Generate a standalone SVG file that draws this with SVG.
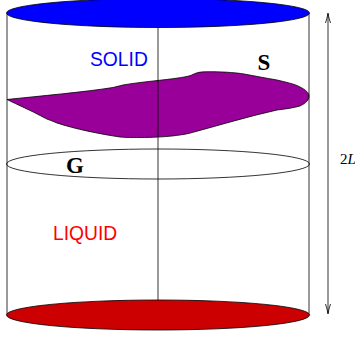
<svg xmlns="http://www.w3.org/2000/svg" width="355" height="338" viewBox="0 0 355 338">
<style>
.l{fill:none;stroke:#000;stroke-width:.8}
.e{stroke:#000;stroke-width:.8}
.sans{font-family:"Liberation Sans",Arial,sans-serif;font-size:19.300px}
.ser{font-family:"Liberation Serif",serif;font-weight:bold;font-size:23px;fill:#000}
</style>
<rect width="355" height="338" fill="#fff"/>
<g id="solid-s"><path class="e" fill="#990099" d="M7 99.500C40 96 85 92 113 87.500L123 85C140 82 165 80 178 78C185 77 190 76 193 74.500C197 72.500 200 71.800 206 71.800C220 71.500 235 72.500 244 74C255 76 265 78 277 80C285 82 295 84 300 87C306 90 309 93 309 96C309 100 306 103 300 106C293 108 285 109 277 110C250 116 220 125 194 132C185 135 165 137.500 140 137.500C130 137.500 125 137.500 120 137C100 134 75 129 57 123C50 120 46 119 43 117C30 110 18 105 7 99.500Z"/></g>
<g id="connectors">
<path class="l" d="M7 13V315M309 13V315M158 27V300"/>
<path class="l" d="M328 14V313"/>
<path class="l" d="M325.500 23Q327.300 18 328 13Q328.700 18 330.500 23M325.500 304Q327.300 309 328 314Q328.700 309 330.500 304"/>
</g>
<g id="top-disc"><ellipse class="e" cx="158" cy="13" rx="151.500" ry="14.500" fill="#0000ff"/></g>
<g id="interface-g"><ellipse class="l" cx="158" cy="164" rx="151.500" ry="15"/></g>
<g id="bottom-disc"><ellipse class="e" cx="158" cy="315" rx="151.500" ry="15" fill="#cc0000"/></g>
<g id="labels">
<text class="sans" x="90" y="66" fill="#0000ff">SOLID</text>
<text class="sans" x="53" y="239.500" fill="#ff0000">LIQUID</text>
<text class="ser" x="257.500" y="69.500">S</text>
<text class="ser" x="66" y="172.500">G</text>
<text x="340" y="163.500" font-family="Liberation Serif,serif" font-size="15px" fill="#000">2<tspan font-style="italic">L</tspan></text>
</g>
</svg>
